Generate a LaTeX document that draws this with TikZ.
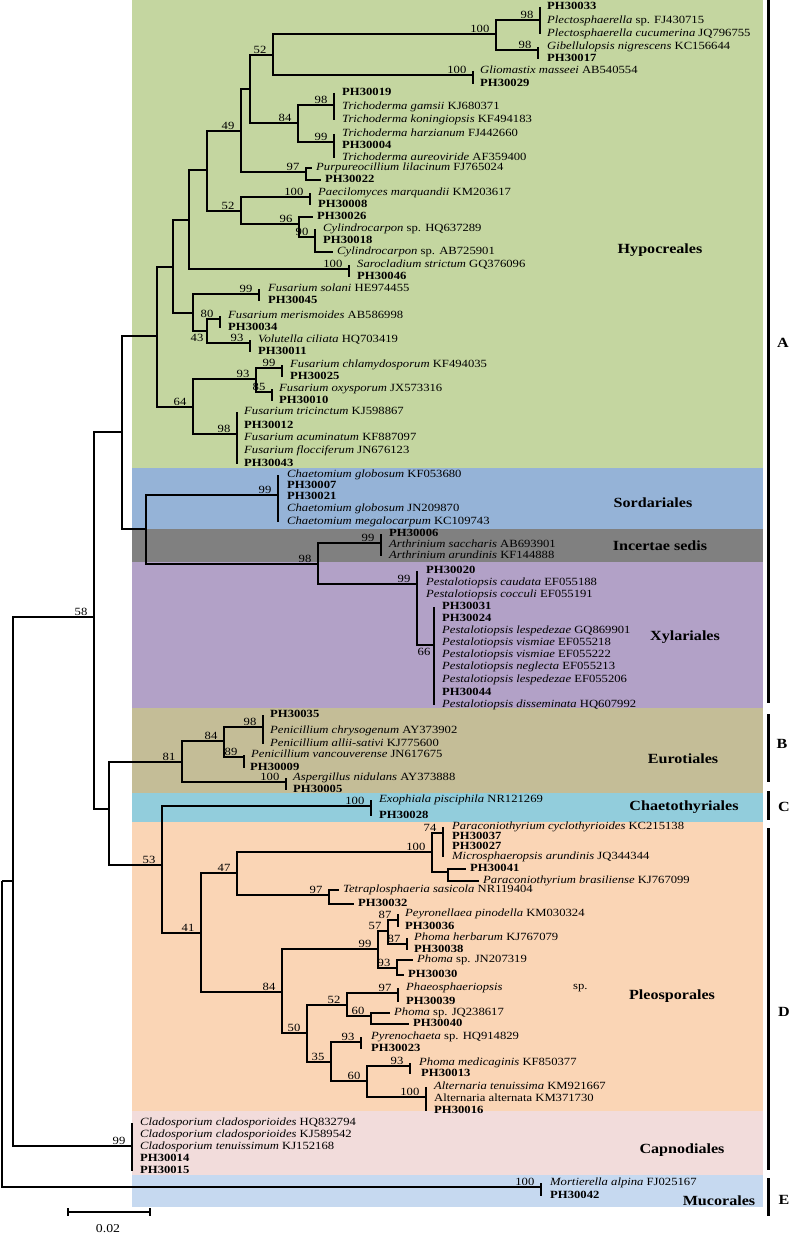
\documentclass[tikz,border=0pt]{standalone}
\usepackage{fontspec}
\setmainfont{Liberation Serif}[FakeStretch=1.15]

\definecolor{hypoGreen}{RGB}{196,214,160}
\definecolor{sordBlue}{RGB}{149,179,215}
\definecolor{incGray}{RGB}{128,128,128}
\definecolor{xylPurple}{RGB}{178,161,199}
\definecolor{euroOlive}{RGB}{196,189,151}
\definecolor{chaeCyan}{RGB}{146,205,220}
\definecolor{pleoOrange}{RGB}{250,213,181}
\definecolor{capnPink}{RGB}{242,220,219}
\definecolor{mucoBlue}{RGB}{198,217,240}

\newcommand{\ph}[1]{\textbf{PH#1}}
\newcommand{\spp}[2]{\textit{#1} #2}
\newcommand{\tipfont}{\fontsize{11}{12}\selectfont}

\begin{document}
\begin{tikzpicture}
[x=1pt, y=-1pt,
  branch/.style={line width=1.3pt},%
  tip/.style={anchor=west, inner sep=0pt, text height=7.5pt, text depth=2.5pt, font=\tipfont},%
  bootLabel/.style={pos=1, anchor=south east, inner sep=0pt, xshift=-6pt, yshift=1pt, font=\tipfont},%
  bootBelow/.style={pos=1, anchor=north east, inner sep=0pt, xshift=-3pt, yshift=-3pt, font=\tipfont},%
  cladeLabel/.style={inner sep=0pt, font=\fontsize{14}{16}\selectfont\bfseries},%
  bracket/.style={line width=3pt}]
\useasboundingbox (0,0) rectangle (789,1236);
%% coloured bands of the orders
\fill[hypoGreen] (132,0) rectangle (763,468);
\fill[sordBlue] (132,468) rectangle (763,529);
\fill[incGray] (132,529) rectangle (763,562);
\fill[xylPurple] (132,562) rectangle (763,708);
\fill[euroOlive] (132,708) rectangle (763,793);
\fill[chaeCyan] (132,793) rectangle (763,822);
\fill[pleoOrange] (132,822) rectangle (763,1111);
\fill[capnPink] (132,1111) rectangle (763,1175);
\fill[mucoBlue] (132,1175) rectangle (763,1207);
%% inner nodes and bars
\foreach \nodename/\x/\y in {
  r0/2/881, n13/13/881, n94/94/617, n122/122/432, n109/109/809, n157/157/336,
  n146/146/529, n173/173/267, n193b/193/407, n189/189/220, n193a/193/313,
  n207a/207/170, n241a/241/131, n241b/241/211, n250/250/89, n306/306/172,
  n273/273/55, n298/298/123, n496/496/34, b540/540/20, b538/538/50,
  b473/473/75, b334a/334/105, b334b/334/142, b310/310/197, n299/299/224,
  n315/315/237, b349/349/269, b259/259/294, n207b/207/331, b220/220/319,
  b250/250/343, n256/256/379, b237/237/434, b282/282/368, b272/272/392,
  b278/278/495, n318/318/564, b381/381/543, n417/417/584, n434/434/645,
  n182/182/762, n162/162/865, n224/224/741, b286/286/782, b263/263/727,
  b244/244/757, b371/371/806, n201/201/933, n237/237/873, n282/282/992,
  n432/432/852, n329/329/895, n443/443/833, n448/448/872, n378/378/949,
  n307/307/1033, n388/388/931, n397/397/968, b398/398/920, b407/407/944,
  n347/347/1005, n331/331/1062, b398b/398/993, n371/371/1016, b361/361/1042,
  n367/367/1081, b410/410/1066, b426/426/1097, b132/132/1146, b541/541/1187}
{
  \coordinate (\nodename) at (\x,\y);
}
%% taxa
\foreach \nodename/\x/\y/\txt in {
  t33a/547/7/\ph{30033}, t33b/547/21/\spp{Plectosphaerella}{sp. FJ430715},
  t33c/547/34/\spp{Plectosphaerella cucumerina}{JQ796755},
  t17a/547/47/\spp{Gibellulopsis nigrescens}{KC156644}, t17b/547/59/\ph{30017},
  t29a/480/71/\spp{Gliomastix masseei}{AB540554}, t29b/480/84/\ph{30029},
  t19a/342/93/\ph{30019}, t19b/342/107/\spp{Trichoderma gamsii}{KJ680371},
  t19c/342/120/\spp{Trichoderma koningiopsis}{KF494183},
  t04a/342/134/\spp{Trichoderma harzianum}{FJ442660}, t04b/342/146/\ph{30004},
  t04c/342/158/\spp{Trichoderma aureoviride}{AF359400},
  t22a/316/168/\spp{Purpureocillium lilacinum}{FJ765024}, t22b/325/180/\ph{30022},
  t08a/318/193/\spp{Paecilomyces marquandii}{KM203617}, t08b/318/205/\ph{30008},
  t26/317/217/\ph{30026},
  t18a/323/229/\spp{Cylindrocarpon}{sp. HQ637289}, t18b/323/241/\ph{30018},
  t18c/337/252/\spp{Cylindrocarpon}{sp. AB725901},
  t46a/357/265/\spp{Sarocladium strictum}{GQ376096}, t46b/357/277/\ph{30046},
  t45a/268/289/\spp{Fusarium solani}{HE974455}, t45b/268/301/\ph{30045},
  t34a/228/316/\spp{Fusarium merismoides}{AB586998}, t34b/228/328/\ph{30034},
  t11a/258/340/\spp{Volutella ciliata}{HQ703419}, t11b/258/352/\ph{30011},
  t25a/290/365/\spp{Fusarium chlamydosporum}{KF494035}, t25b/290/377/\ph{30025},
  t10a/279/389/\spp{Fusarium oxysporum}{JX573316}, t10b/279/401/\ph{30010},
  t43a/244/412/\spp{Fusarium tricinctum}{KJ598867}, t43b/244/426/\ph{30012},
  t43c/244/438/\spp{Fusarium acuminatum}{KF887097},
  t43d/244/451/\spp{Fusarium flocciferum}{JN676123}, t43e/244/464/\ph{30043},
  t21a/287/475/\spp{Chaetomium globosum}{KF053680}, t21b/287/486/\ph{30007},
  t21c/287/497/\ph{30021}, t21d/287/509/\spp{Chaetomium globosum}{JN209870},
  t21e/287/522/\spp{Chaetomium megalocarpum}{KC109743},
  t06a/389/534/\ph{30006}, t06b/389/545/\spp{Arthrinium saccharis}{AB693901},
  t06c/389/556/\spp{Arthrinium arundinis}{KF144888},
  t20a/426/571/\ph{30020}, t20b/426/583/\spp{Pestalotiopsis caudata}{EF055188},
  t20c/426/595/\spp{Pestalotiopsis cocculi}{EF055191},
  t44a/442/607/\ph{30031}, t44b/442/619/\ph{30024},
  t44c/442/631/\spp{Pestalotiopsis lespedezae}{GQ869901},
  t44d/442/643/\spp{Pestalotiopsis vismiae}{EF055218},
  t44e/442/655/\spp{Pestalotiopsis vismiae}{EF055222},
  t44f/442/667/\spp{Pestalotiopsis neglecta}{EF055213},
  t44g/442/680/\spp{Pestalotiopsis lespedezae}{EF055206},
  t44h/442/693/\ph{30044}, t44i/442/705/\spp{Pestalotiopsis disseminata}{HQ607992},
  t35a/270/715/\ph{30035}, t35b/270/731/\spp{Penicillium chrysogenum}{AY373902},
  t35c/270/744/\spp{Penicillium allii-sativi}{KJ775600},
  t09a/251/755/\spp{Penicillium vancouverense}{JN617675}, t09b/250/768/\ph{30009},
  t05a/293/778/\spp{Aspergillus nidulans}{AY373888}, t05b/293/790/\ph{30005},
  t28a/379/800/\spp{Exophiala pisciphila}{NR121269}, t28b/379/816/\ph{30028},
  t37a/452/827/\spp{Paraconiothyrium cyclothyrioides}{KC215138},
  t37b/452/837/\ph{30037}, t37c/452/847/\ph{30027},
  t37d/452/857/\spp{Microsphaeropsis arundinis}{JQ344344},
  t41a/470/869/\ph{30041}, t41b/483/881/\spp{Paraconiothyrium brasiliense}{KJ767099},
  t32a/343/890/\spp{Tetraplosphaeria sasicola}{NR119404}, t32b/358/904/\ph{30032},
  t36a/405/914/\spp{Peyronellaea pinodella}{KM030324}, t36b/405/927/\ph{30036},
  t38a/414/938/\spp{Phoma herbarum}{KJ767079}, t38b/414/950/\ph{30038},
  t30a/417/960/\spp{Phoma}{sp. JN207319}, t30b/408/975/\ph{30030},
  t39a/406/988/\textit{Phaeosphaeriopsis}, t39s/573/987/sp., t39b/406/1002/\ph{30039},
  t40a/394/1013/\spp{Phoma}{sp. JQ238617}, t40b/413/1024/\ph{30040},
  t23a/371/1037/\spp{Pyrenochaeta}{sp. HQ914829}, t23b/371/1049/\ph{30023},
  t13a/419/1063/\spp{Phoma medicaginis}{KF850377}, t13b/421/1074/\ph{30013},
  t16a/434/1087/\spp{Alternaria tenuissima}{KM921667},
  t16b/434/1099/Alternaria alternata KM371730, t16c/434/1111/\ph{30016},
  t14a/140/1123/\spp{Cladosporium cladosporioides}{HQ832794},
  t14b/140/1135/\spp{Cladosporium cladosporioides}{KJ589542},
  t14c/140/1147/\spp{Cladosporium tenuissimum}{KJ152168},
  t14d/140/1159/\ph{30014}, t14e/140/1171/\ph{30015},
  t42a/550/1183/\spp{Mortierella alpina}{FJ025167}, t42b/550/1196/\ph{30042}}
{
  \node[tip] (\nodename) at (\x,\y) {\txt};
}
%% branches with bootstrap values
\foreach \startnode/\endnode/\boot in {
  r0/n13/{}, r0/b541/100, n13/n94/58, n13/b132/99, n94/n122/{}, n94/n109/{},
  n122/n157/{}, n122/n146/{}, n157/n173/{}, n157/n193b/64, n173/n189/{},
  n173/n193a/{}, n189/n207a/{}, n189/b349/100, n207a/n241a/49, n207a/n241b/52,
  n241a/n250/{}, n241a/n306/97, n250/n273/52, n250/n298/84, n273/n496/100,
  n273/b473/100, n496/b540/98, n496/b538/98, n298/b334a/98, n298/b334b/99,
  n241b/b310/100, n241b/n299/96, n299/n315/90, n193a/b259/99, n207b/b220/80,
  n207b/b250/93, n193b/n256/93, n193b/b237/98, n256/b282/99, n256/b272/85,
  n146/b278/99, n146/n318/98, n318/b381/99, n318/n417/99,
  n109/n182/81, n109/n162/53, n182/n224/84, n182/b286/100, n224/b263/98,
  n224/b244/89, n162/b371/100, n162/n201/41, n201/n237/47, n201/n282/84,
  n237/n432/100, n237/n329/97, n432/n443/74, n432/n448/{}, n282/n378/99,
  n282/n307/50, n378/n388/57, n378/n397/93, n388/b398/87, n388/b407/87,
  n307/n347/52, n307/n331/35, n347/b398b/97, n347/n371/60, n331/b361/93,
  n331/n367/60, n367/b410/93, n367/b426/100}
{
  \draw[branch] (\startnode) |- node[bootLabel] {\boot} (\endnode);
}
\draw[branch] (n193a) |- node[bootBelow] {43} (n207b);
\draw[branch] (n417) |- node[bootBelow] {66} (n434);
%% single taxa
\foreach \startnode/\endnode in {
  n306/t22a, n306/t22b, n299/t26, n315/t18c, n448/t41a, n448/t41b,
  n329/t32a, n329/t32b, n397/t30a, n397/t30b, n371/t40a, n371/t40b}
{
  \draw[branch, shorten >=4pt] (\startnode) |- (\endnode);
}
\foreach \startnode/\endnode in {n315/t18a, n417/t20a}
{
  \draw[branch] (\startnode) -- (\startnode |- \endnode);
}
%% bars of grouped taxa
\foreach \barnode/\first/\last in {
  b540/t33a/t33c, b538/t17a/t17b, b473/t29a/t29b, b334a/t19a/t19c,
  b334b/t04a/t04c, b310/t08a/t08b, b349/t46a/t46b, b259/t45a/t45b,
  b220/t34a/t34b, b250/t11a/t11b, b282/t25a/t25b, b272/t10a/t10b,
  b237/t43a/t43e, b278/t21a/t21e, b381/t06a/t06c, n434/t44a/t44i,
  b263/t35a/t35c, b244/t09a/t09b, b286/t05a/t05b, b371/t28a/t28b,
  n443/t37a/t37d, b398/t36a/t36b, b407/t38a/t38b, b398b/t39a/t39b,
  b361/t23a/t23b, b410/t13a/t13b, b426/t16a/t16c, b132/t14a/t14e,
  b541/t42a/t42b}
{
  \draw[branch] (\barnode |- \first) -- (\barnode |- \last);
}
%% orders
\node[cladeLabel] (hypo) at (660,250) {Hypocreales};
\node[cladeLabel] (sord) at (653,503) {Sordariales};
\node[cladeLabel] (inc) at (660,546) {Incertae sedis};
\node[cladeLabel] (xyl) at (685,637) {Xylariales};
\node[cladeLabel] (euro) at (683,759) {Eurotiales};
\node[cladeLabel] (chae) at (684,807) {Chaetothyriales};
\node[cladeLabel] (pleo) at (672,996) {Pleosporales};
\node[cladeLabel] (capn) at (682,1150) {Capnodiales};
\node[cladeLabel] (muco) at (719,1201) {Mucorales};
%% groups A to E
\draw[bracket] (768,0) -- (768,703);
\draw[bracket] (768,714) -- (768,782);
\draw[bracket] (768,791) -- (768,820);
\draw[bracket] (768,828) -- (768,1170);
\draw[bracket] (768,1178) -- (768,1216);
\node[cladeLabel] (grpA) at (783,343) {A};
\node[cladeLabel] (grpB) at (782,744) {B};
\node[cladeLabel] (grpC) at (784,807) {C};
\node[cladeLabel] (grpD) at (784,1012) {D};
\node[cladeLabel] (grpE) at (784,1200) {E};
%% scale bar
\coordinate (sbL) at (68,1212);
\coordinate (sbR) at (150,1212);
\draw[branch] (sbL) -- (sbR);
\draw[branch] ([yshift=4pt]sbL) -- ([yshift=-4pt]sbL);
\draw[branch] ([yshift=4pt]sbR) -- ([yshift=-4pt]sbR);
\node[font=\fontsize{12}{14}\selectfont, inner sep=0pt] (sbText) at (108,1229) {0.02};
\end{tikzpicture}
\end{document}
